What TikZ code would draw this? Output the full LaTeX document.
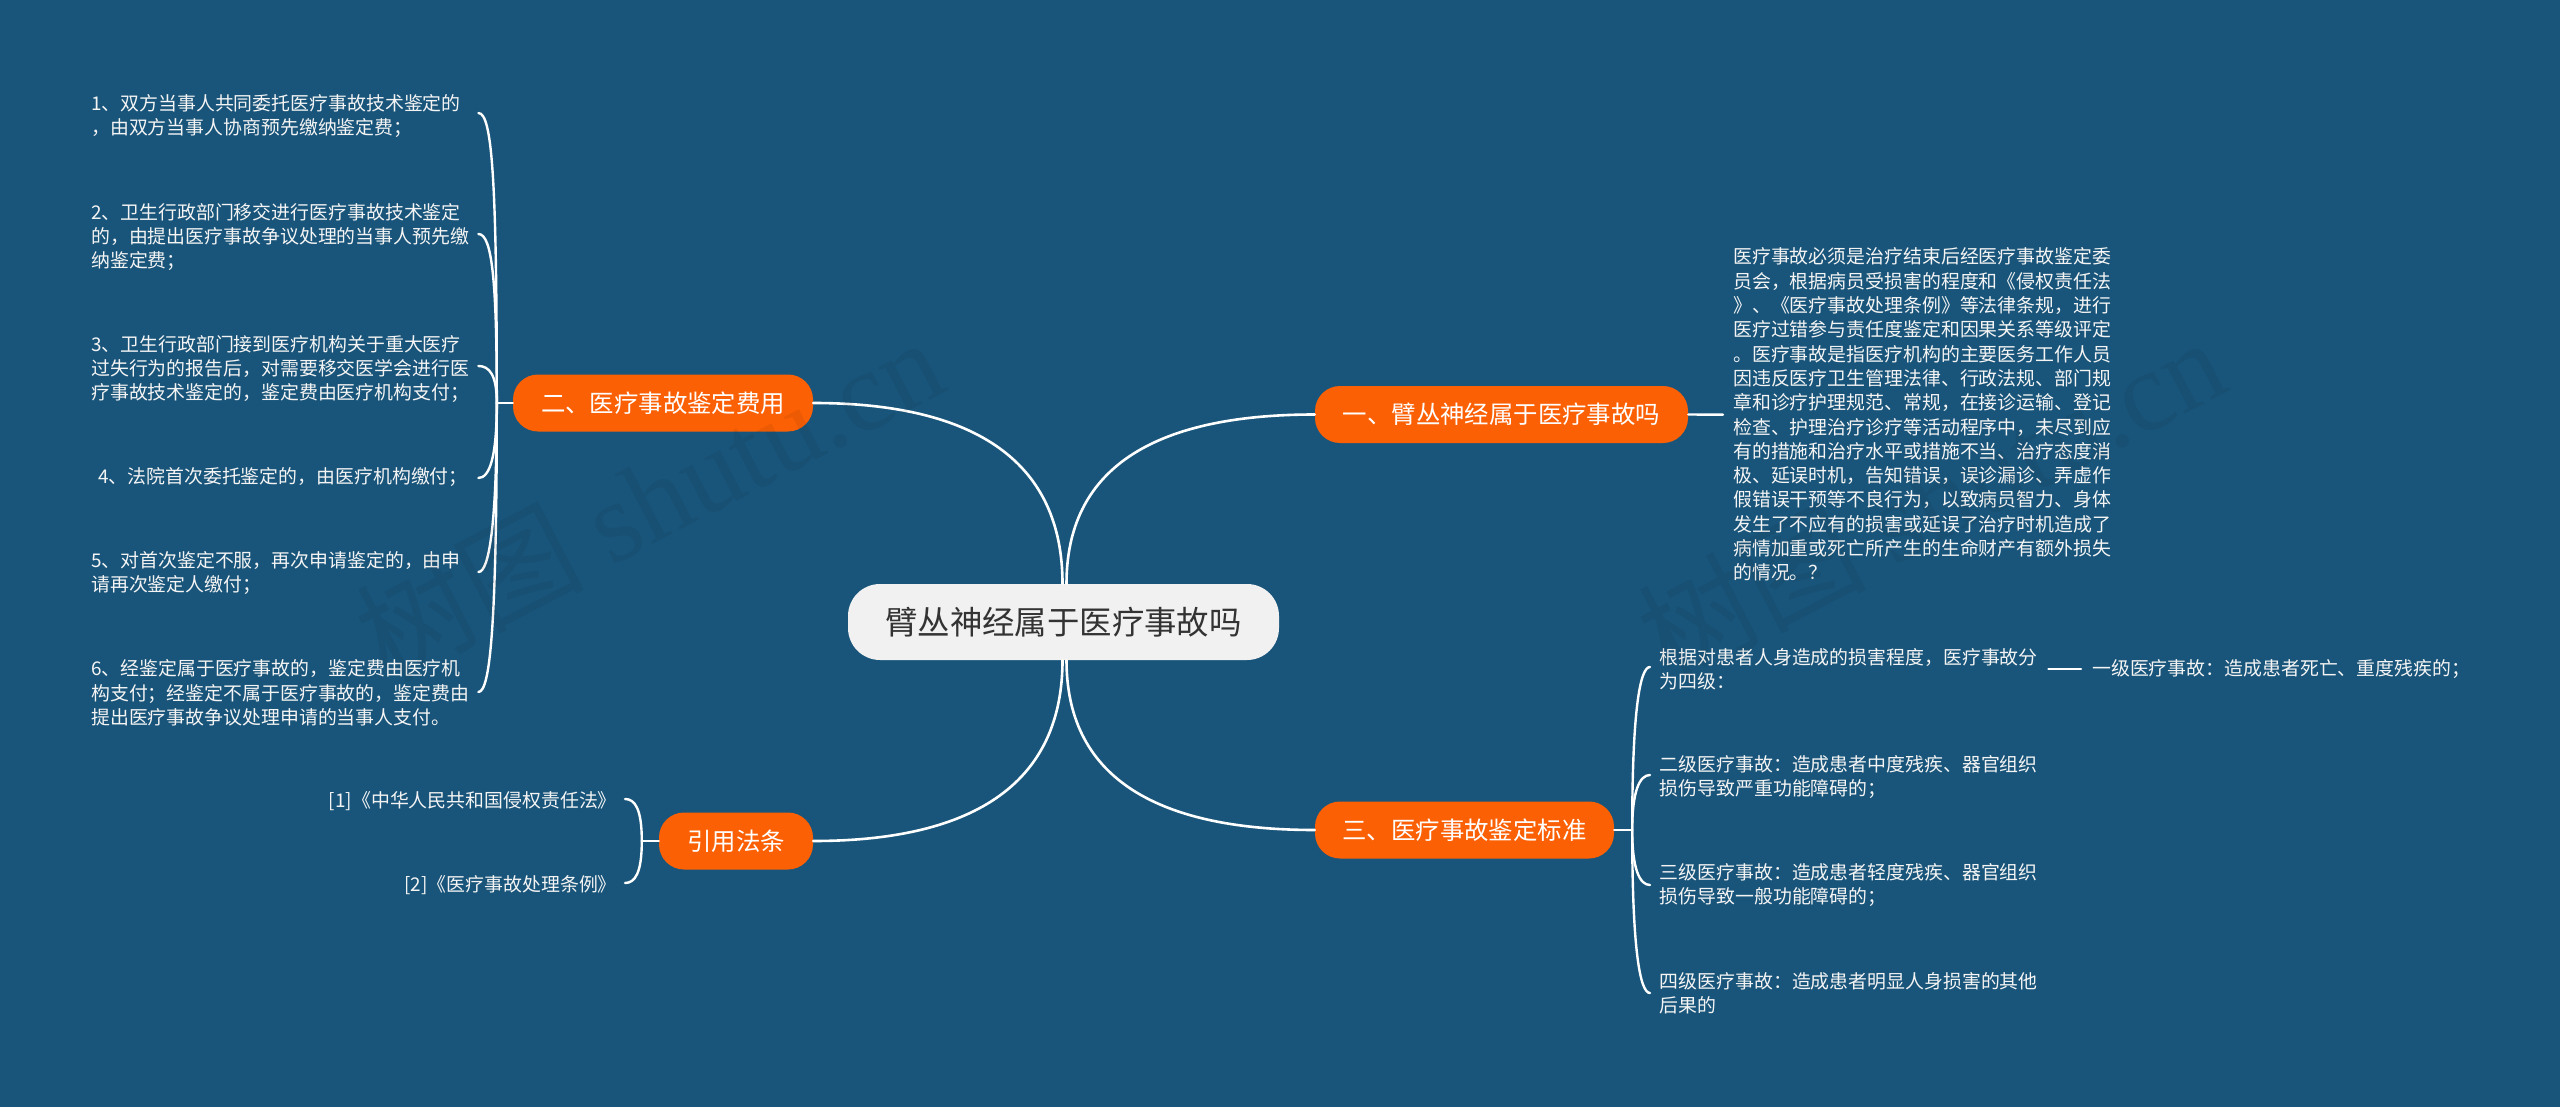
\documentclass[tikz,border=0pt]{standalone}
\usepackage{fontspec}
\setmainfont{Noto Sans CJK SC}
\newfontfamily\wmlatin{Liberation Serif}
\definecolor{bgblue}{HTML}{19557A}
\definecolor{orangeN}{HTML}{FB6005}
\definecolor{rootN}{HTML}{F1F1F1}
\definecolor{rootT}{HTML}{333333}
\definecolor{leafT}{HTML}{F4F4F4}
\tikzset{
  rootbox/.style={draw=none,fill=rootN,text=rootT,rounded corners=32pt,minimum width=431pt,minimum height=76pt,inner sep=0pt,font=\fontsize{32.4}{36}\selectfont},
  topicbox/.style={draw=none,fill=orangeN,text=white,rounded corners=25pt,minimum height=57pt,inner sep=0pt,font=\fontsize{24.4}{28}\selectfont},
  leafbox/.style={text=leafT,inner ysep=0pt,align=left,font=\fontsize{18.9}{24.3}\selectfont},
  link/.style={draw=white,line width=2.6pt,line cap=round},
  brace/.style={draw=white,line width=2.4pt,line cap=round},
  wmark/.style={text=black,opacity=0.06,rotate=27.5,font=\fontsize{114}{120}\selectfont}
}
\begin{document}
\begin{tikzpicture}[x=1pt,y=-1pt]
\useasboundingbox (0,0) rectangle (2560,1107);
\fill[bgblue] (0,0) rectangle (2560,1107);

% main nodes
\node[rootbox] (root) at (1063.5,622) {臂丛神经属于医疗事故吗};
\node[topicbox,minimum width=373pt] (n1) at (1501.5,414.5) {一、臂丛神经属于医疗事故吗};
\node[topicbox,minimum width=300pt] (n2) at (663,403) {二、医疗事故鉴定费用};
\node[topicbox,minimum width=299pt] (n3) at (1464.5,830) {三、医疗事故鉴定标准};
\node[topicbox,minimum width=154pt] (n4) at (736,841) {引用法条};

% left leaves
\node[leafbox,anchor=west,inner xsep=0pt,text width=387pt] (a1) at (91,116) {1、双方当事人共同委托医疗事故技术鉴定的\\，由双方当事人协商预先缴纳鉴定费；};
\node[leafbox,anchor=west,inner xsep=0pt,text width=387pt] (a2) at (91,237) {2、卫生行政部门移交进行医疗事故技术鉴定\\的，由提出医疗事故争议处理的当事人预先缴\\纳鉴定费；};
\node[leafbox,anchor=west,inner xsep=0pt,text width=387pt] (a3) at (91,369) {3、卫生行政部门接到医疗机构关于重大医疗\\过失行为的报告后，对需要移交医学会进行医\\疗事故技术鉴定的，鉴定费由医疗机构支付；};
\node[leafbox,anchor=west,inner xsep=0pt,text width=387pt] (a4) at (91,477) {\hspace*{7pt}4、法院首次委托鉴定的，由医疗机构缴付；};
\node[leafbox,anchor=west,inner xsep=0pt,text width=387pt] (a5) at (91,573) {5、对首次鉴定不服，再次申请鉴定的，由申\\请再次鉴定人缴付；};
\node[leafbox,anchor=west,inner xsep=0pt,text width=387pt] (a6) at (91,693) {6、经鉴定属于医疗事故的，鉴定费由医疗机\\构支付；经鉴定不属于医疗事故的，鉴定费由\\提出医疗事故争议处理申请的当事人支付。};

% citations
\node[leafbox,anchor=east,inner xsep=8pt] (c1) at (625,801) {[1]《中华人民共和国侵权责任法》};
\node[leafbox,anchor=east,inner xsep=8pt] (c2) at (625,885) {[2]《医疗事故处理条例》};

% right text
\node[leafbox,anchor=west,inner xsep=10pt,text width=380pt] (b1) at (1723,414.7) {医疗事故必须是治疗结束后经医疗事故鉴定委\\员会，根据病员受损害的程度和《侵权责任法\\》、《医疗事故处理条例》等法律条规，进行\\医疗过错参与责任度鉴定和因果关系等级评定\\。医疗事故是指医疗机构的主要医务工作人员\\因违反医疗卫生管理法律、行政法规、部门规\\章和诊疗护理规范、常规，在接诊运输、登记\\检查、护理治疗诊疗等活动程序中，未尽到应\\有的措施和治疗水平或措施不当、治疗态度消\\极、延误时机，告知错误，误诊漏诊、弄虚作\\假错误干预等不良行为，以致病员智力、身体\\发生了不应有的损害或延误了治疗时机造成了\\病情加重或死亡所产生的生命财产有额外损失\\的情况。？};

% right lower leaves
\node[leafbox,anchor=west,inner xsep=9.5pt,text width=379pt] (d1) at (1650,669) {根据对患者人身造成的损害程度，医疗事故分\\为四级：};
\node[leafbox,anchor=west,inner xsep=9.5pt,text width=379pt] (d2) at (1650,777) {二级医疗事故：造成患者中度残疾、器官组织\\损伤导致严重功能障碍的；};
\node[leafbox,anchor=west,inner xsep=9.5pt,text width=379pt] (d3) at (1650,885) {三级医疗事故：造成患者轻度残疾、器官组织\\损伤导致一般功能障碍的；};
\node[leafbox,anchor=west,inner xsep=9.5pt,text width=379pt] (d4) at (1650,993) {四级医疗事故：造成患者明显人身损害的其他\\后果的};
\node[leafbox,anchor=west,inner xsep=11pt] (e1) at (2081,669) {一级医疗事故：造成患者死亡、重度残疾的；};

% root connectors
\draw[link] ([xshift=3pt]root.north) .. controls +(0,-113) and +(-165,0) .. (n1.west);
\draw[link] ([xshift=-1pt]root.north) .. controls +(0,-120) and +(165,0) .. (n2.east);
\draw[link] ([xshift=3pt]root.south) .. controls +(0,113) and +(-165,0) .. (n3.west);
\draw[link] ([xshift=-1pt]root.south) .. controls +(0,120) and +(165,0) .. (n4.east);

% stubs
\coordinate (j2) at ([xshift=-16pt]n2.west);
\coordinate (j3) at ([xshift=18pt]n3.east);
\coordinate (j4) at ([xshift=-17pt]n4.west);
\draw[brace] (n2.west) -- (j2);
\draw[brace] (n3.east) -- (j3);
\draw[brace] (n4.west) -- (j4);
\draw[brace] (n1.east) -- (b1.west);
\draw[brace] (d1.east) -- (e1.west);

% left bracket
\draw[brace] (j2) .. controls +(0,-220) and +(14,0) .. ([yshift=3pt]a1.east);
\draw[brace] (j2) .. controls +(0,-120) and +(14,0) .. ([yshift=3pt]a2.east);
\draw[brace] (j2) .. controls +(0,-28) and +(11,0) .. ([yshift=3pt]a3.east);
\draw[brace] (j2) .. controls +(0,55) and +(11,0) .. ([yshift=-1pt]a4.east);
\draw[brace] (j2) .. controls +(0,120) and +(11,0) .. ([yshift=1pt]a5.east);
\draw[brace] (j2) .. controls +(0,220) and +(12,0) .. ([yshift=1pt]a6.east);

% citations bracket
\draw[brace] (j4) .. controls +(0,-32) and +(10,0) .. ([yshift=2pt]c1.east);
\draw[brace] (j4) .. controls +(0,32) and +(10,0) .. ([yshift=2pt]c2.east);

% right bracket
\draw[brace] (j3) .. controls +(0,-120) and +(-10,0) .. ([yshift=2pt]d1.west);
\draw[brace] (j3) .. controls +(0,-40) and +(-10,0) .. ([yshift=2pt]d2.west);
\draw[brace] (j3) .. controls +(0,40) and +(-10,0) .. (d3.west);
\draw[brace] (j3) .. controls +(0,120) and +(-10,0) .. (d4.west);

% watermark
\node[wmark] (w1) at (649,498) {树图 {\wmlatin shutu.cn}};
\node[wmark] (w2) at (1931,498) {树图 {\wmlatin shutu.cn}};
\end{tikzpicture}
\end{document}
